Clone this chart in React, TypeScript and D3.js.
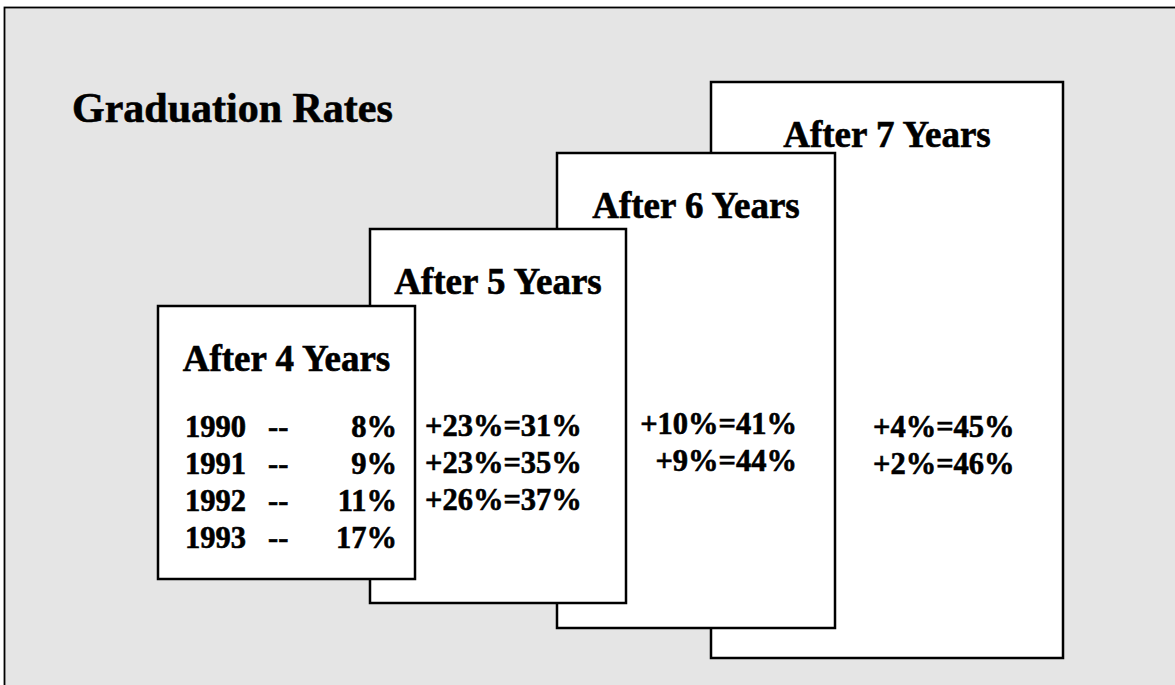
import React from "react";
import * as d3 from "d3";

const title = "Graduation Rates";
const stages = ["After 4 Years", "After 5 Years", "After 6 Years", "After 7 Years"];
const cohorts = ["1990", "1991", "1992", "1993"];
const after4 = [8, 9, 11, 17];
const gain5 = [23, 23, 26];
const total5 = [31, 35, 37];
const gain6 = [10, 9];
const total6 = [41, 44];
const gain7 = [4, 2];
const total7 = [45, 46];

const W = 1175;
const H = 685;
const FONT = "'Liberation Serif', 'Times New Roman', serif";

// box geometry (layout)
const boxes = [
  { x0: 158, y0: 306, x1: 415, y1: 579 },
  { x0: 370, y0: 229, x1: 626, y1: 603 },
  { x0: 557, y0: 153, x1: 835, y1: 628 },
  { x0: 711, y0: 82, x1: 1063, y1: 658 },
];

export default function App() {
  const row = d3
    .scalePoint<string>()
    .domain(cohorts)
    .range([437, 548]);

  const pct = (v: number) => `${v}%`;
  const gainText = (g: number, t: number) => `+${g}%=${t}%`;

  const drawOrder = [3, 2, 1, 0];
  const textStroke = { stroke: "#000", strokeWidth: 0.6 };

  return (
    <svg
      width={W}
      height={H}
      style={{ position: "absolute", left: 0, top: 0, display: "block" }}
      fontFamily={FONT}
      fontWeight="bold"
    >
      <rect x={0} y={0} width={W} height={H} fill="#ffffff" />
      <rect x={4.5} y={7.5} width={W + 20} height={H + 20} fill="#e5e5e5" stroke="#000" strokeWidth={1.8} />
      <text x={72} y={122} fontSize={42} fill="#000" {...textStroke}>
        {title}
      </text>
      {drawOrder.map((i) => {
        const b = boxes[i];
        return (
          <g key={i}>
            <rect
              x={b.x0}
              y={b.y0}
              width={b.x1 - b.x0}
              height={b.y1 - b.y0}
              fill="#fff"
              stroke="#000"
              strokeWidth={2.5}
            />
            <text
              x={(b.x0 + b.x1) / 2}
              y={b.y0 + 65}
              fontSize={37}
              textAnchor="middle"
              fill="#000"
              {...textStroke}
            >
              {stages[i]}
            </text>
          </g>
        );
      })}
      {/* After 4 years rows */}
      {cohorts.map((c, i) => (
        <g key={c} fontSize={30.5} fill="#000" {...textStroke}>
          <text x={185} y={row(c)}>{c}</text>
          <text x={268} y={row(c)}>--</text>
          <text x={397} y={row(c)} textAnchor="end">{pct(after4[i])}</text>
        </g>
      ))}
      {gain5.map((g, i) => (
        <text key={"g5" + i} x={425} y={(row(cohorts[i]) as number) - 1} fontSize={30.5} fill="#000" {...textStroke}>
          {gainText(g, total5[i])}
        </text>
      ))}
      {gain6.map((g, i) => (
        <text key={"g6" + i} x={797} y={(row(cohorts[i]) as number) - 3} fontSize={30.5} textAnchor="end" fill="#000" {...textStroke}>
          {gainText(g, total6[i])}
        </text>
      ))}
      {gain7.map((g, i) => (
        <text key={"g7" + i} x={873} y={row(cohorts[i]) as number} fontSize={30.5} fill="#000" {...textStroke}>
          {gainText(g, total7[i])}
        </text>
      ))}
    </svg>
  );
}
